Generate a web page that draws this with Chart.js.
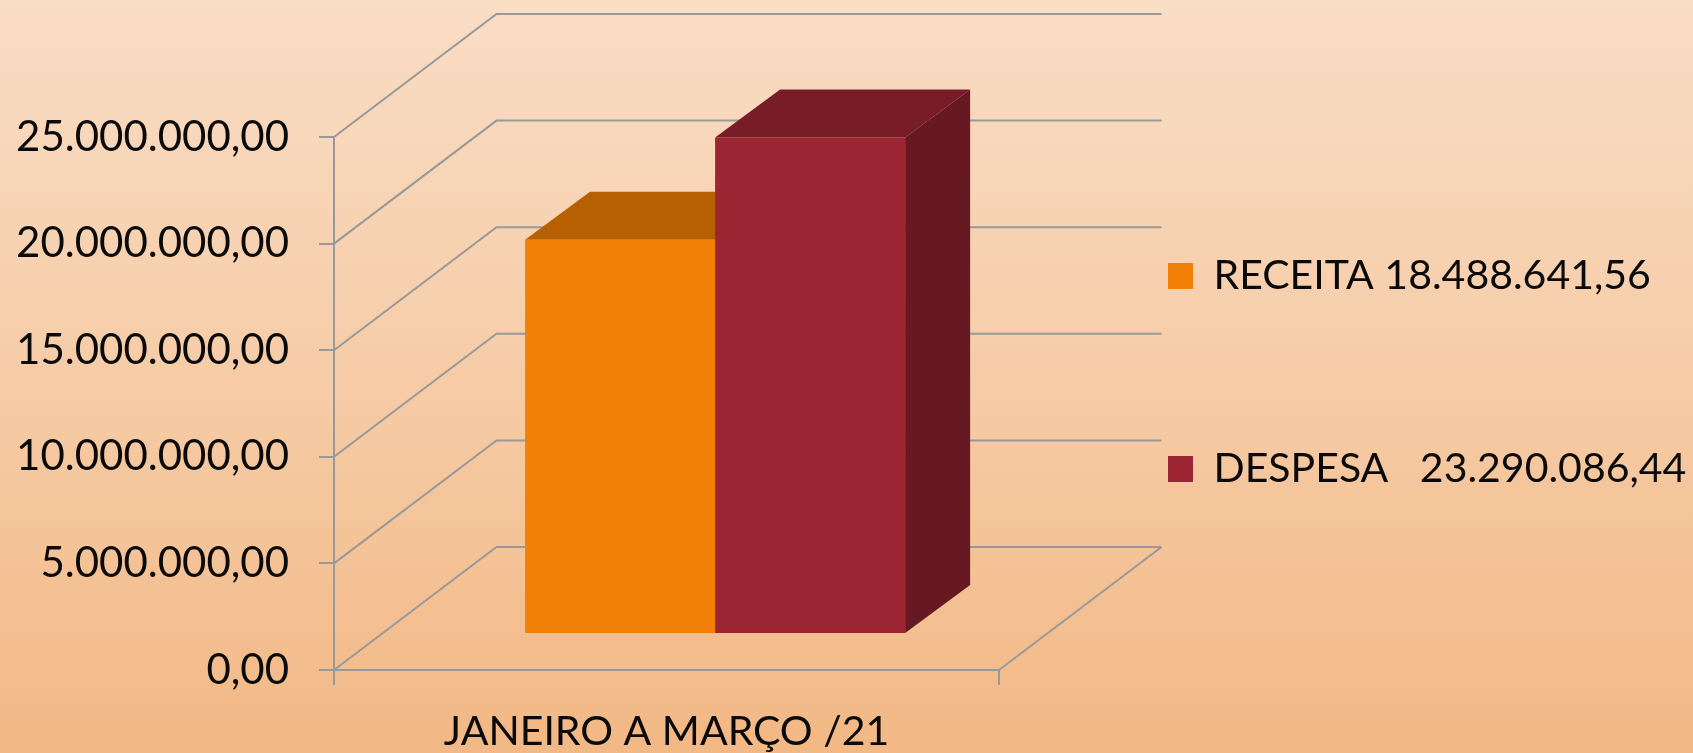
<!DOCTYPE html>
<html lang="pt-BR">
<head>
<meta charset="utf-8">
<title>Receita e despesa</title>
<style>html,body{margin:0;padding:0;background:#F6CDA8;overflow:hidden}canvas{display:block}</style>
<script src="https://cdn.jsdelivr.net/npm/chart.js@4/dist/chart.umd.min.js"></script>
</head>
<body>
<canvas id="c" width="1693" height="753"></canvas>
<script>
const categories = ['JANEIRO A MARÇO /21'];
const seriesNames = ['RECEITA 18.488.641,56', 'DESPESA   23.290.086,44'];
const receita = [18488641.56];
const despesa = [23290086.44];

const frontColors = ['#F28006', '#9C2534'];
const topColors = ['#B65F03', '#781C27'];
const sideColors = ['#B65F03', '#661922'];
const GRID = '#999999';
const TEXT = '#0A0A0A';
const FONT = 'Lato, Carlito, sans-serif';
const LEGEND_SIZE = 41;
const WALL = {dx: 162.5, dy: 123};     // depth of the 3D floor
const SHIFT = {dx: 48.6, dy: 36};      // bars stand this far into the floor
const FACE = {dx: 65, dy: 48};         // depth of each 3D bar

const brl = v => v.toLocaleString('pt-BR', {minimumFractionDigits: 2, maximumFractionDigits: 2});

function poly(ctx, color, pts) {
  ctx.fillStyle = color;
  ctx.beginPath();
  pts.forEach((p, i) => i ? ctx.lineTo(p[0], p[1]) : ctx.moveTo(p[0], p[1]));
  ctx.closePath();
  ctx.fill();
}

const scene3d = {
  id: 'scene3d',
  beforeLayout(chart) {
    const l = chart.legend;
    l.beforeFit = function () { this.maxHeight = 2000; };
    l.afterFit = function () { this.width = 1; };
  },
  afterLayout(chart) {
    const l = chart.legend, pad = l.options.labels.padding;
    l.left = 1168 - pad;
    l.right = 2000;
    l.top = 276 - pad - LEGEND_SIZE / 2;
    l.bottom = 2000;
  },
  beforeDraw(chart) {
    const {ctx, width, height} = chart;
    const g = ctx.createLinearGradient(0, 0, 0, height);
    g.addColorStop(0, '#F9DDC5');
    g.addColorStop(0.5, '#F6CCA7');
    g.addColorStop(1, '#F2B885');
    ctx.save();
    ctx.fillStyle = g;
    ctx.fillRect(0, 0, width, height);
    ctx.restore();
  },
  beforeDatasetsDraw(chart) {
    const {ctx, chartArea: a, scales: {y}} = chart;
    ctx.save();
    ctx.strokeStyle = GRID;
    ctx.lineWidth = 2;
    y.ticks.forEach(t => {
      const py = y.getPixelForValue(t.value);
      ctx.beginPath();
      ctx.moveTo(a.left, py);
      ctx.lineTo(a.left + WALL.dx, py - WALL.dy);
      ctx.lineTo(a.right + WALL.dx, py - WALL.dy);
      ctx.stroke();
    });
    ctx.beginPath();
    ctx.moveTo(a.right, a.bottom);
    ctx.lineTo(a.right + WALL.dx, a.bottom - WALL.dy);
    ctx.stroke();
    ctx.restore();

    ctx.save();
    ctx.translate(SHIFT.dx, -SHIFT.dy);
    chart.data.datasets.forEach((ds, i) => {
      chart.getDatasetMeta(i).data.forEach(b => {
        const l = b.x - b.width / 2, r = b.x + b.width / 2;
        poly(ctx, topColors[i], [[l, b.y], [r, b.y], [r + FACE.dx, b.y - FACE.dy], [l + FACE.dx, b.y - FACE.dy]]);
        poly(ctx, sideColors[i], [[r, b.y], [r + FACE.dx, b.y - FACE.dy], [r + FACE.dx, b.base - FACE.dy], [r, b.base]]);
      });
    });
  },
  afterDatasetsDraw(chart) {
    chart.ctx.restore();
  }
};

new Chart(document.getElementById('c'), {
  type: 'bar',
  data: {
    labels: categories,
    datasets: [
      {label: seriesNames[0], data: receita, backgroundColor: frontColors[0], borderWidth: 0},
      {label: seriesNames[1], data: despesa, backgroundColor: frontColors[1], borderWidth: 0}
    ]
  },
  plugins: [scene3d],
  options: {
    responsive: false,
    animation: false,
    categoryPercentage: 0.5715,
    barPercentage: 1,
    layout: {padding: {top: 137, right: 361, left: 0, bottom: 0}},
    scales: {
      x: {
        afterFit: s => { s.height = 83; },
        grid: {drawOnChartArea: false, color: GRID, tickColor: GRID, tickLength: 15, lineWidth: 2},
        border: {color: GRID, width: 2},
        ticks: {color: TEXT, font: {family: FONT, size: 41}, padding: 22, maxRotation: 0}
      },
      y: {
        min: 0, max: 25000000,
        afterFit: s => { s.width = 334; },
        grid: {drawOnChartArea: false, color: GRID, tickColor: GRID, tickLength: 15, lineWidth: 2},
        border: {color: GRID, width: 2},
        ticks: {stepSize: 5000000, color: TEXT, font: {family: FONT, size: 42}, padding: 30, callback: v => brl(v)}
      }
    },
    plugins: {
      tooltip: {enabled: false},
      title: {display: false},
      legend: {
        position: 'right',
        align: 'start',
        labels: {
          color: TEXT,
          font: {family: FONT, size: LEGEND_SIZE},
          boxWidth: 25,
          boxHeight: 26,
          padding: 193 - LEGEND_SIZE
        }
      }
    }
  }
});
</script>
</body>
</html>
